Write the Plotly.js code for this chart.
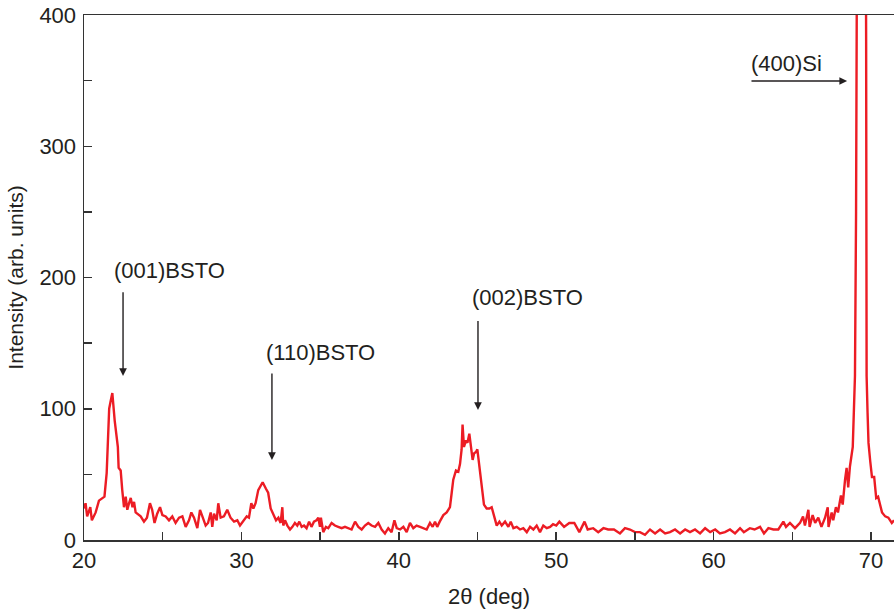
<!DOCTYPE html>
<html>
<head>
<meta charset="utf-8">
<script src="https://cdn.plot.ly/plotly-3.0.1.min.js"></script>
<style>html,body{margin:0;padding:0;background:#fff;}#chart{width:894px;height:610px;}</style>
</head>
<body>
<div id="chart"></div>
<script>
// 2-theta positions (deg)
const twoTheta = [
20.0,20.1,20.2,20.4,20.5,20.74,20.95,21.15,21.3,21.44,21.52,21.6,21.68,21.8,21.95,22.05,22.15,22.2,22.33,22.43,
22.54,22.65,22.75,22.86,22.97,23.08,23.18,23.28,23.39,23.6,23.81,24.0,24.19,24.33,24.48,24.65,24.83,24.98,25.19,25.4,
25.61,25.82,26.04,26.25,26.46,26.67,26.82,26.99,27.2,27.37,27.52,27.73,27.88,28.05,28.15,28.26,28.43,28.53,28.68,28.89,
29.1,29.31,29.53,29.74,29.91,30.12,30.34,30.48,30.63,30.76,30.9,31.07,31.35,31.56,31.7,31.86,32.02,32.2,32.35,32.49,
32.6,32.66,32.77,32.92,33.09,33.24,33.4,33.55,33.68,33.83,33.98,34.14,34.3,34.45,34.61,34.77,34.89,34.99,35.05,35.2,
35.37,35.52,35.73,35.94,36.15,36.37,36.58,36.79,37.0,37.22,37.43,37.64,37.85,38.06,38.27,38.49,38.7,38.91,39.12,39.33,
39.54,39.72,39.87,40.08,40.29,40.5,40.71,40.92,41.13,41.35,41.56,41.77,41.98,42.15,42.3,42.44,42.6,42.83,43.04,43.25,
43.36,43.46,43.63,43.78,43.89,43.99,44.05,44.14,44.27,44.36,44.48,44.57,44.69,44.78,44.9,44.99,45.11,45.26,45.41,45.58,
45.75,45.9,46.05,46.22,46.39,46.54,46.75,46.96,47.11,47.28,47.49,47.7,47.91,48.13,48.34,48.55,48.76,48.97,49.18,49.4,
49.61,49.8,50.0,50.2,50.5,50.83,51.15,51.47,51.8,52.0,52.35,52.67,53.0,53.3,53.67,54.05,54.37,54.69,55.0,55.32,
55.64,55.96,56.28,56.6,56.92,57.23,57.55,57.87,58.19,58.5,58.82,59.14,59.46,59.78,60.1,60.4,60.72,61.04,61.36,61.68,
61.92,62.3,62.6,62.95,63.2,63.48,63.8,64.11,64.43,64.6,64.85,65.17,65.49,65.68,65.8,66.02,66.1,66.29,66.45,66.65,
66.85,67.08,67.25,67.3,67.5,67.6,67.77,67.9,68.09,68.2,68.35,68.45,68.55,68.66,68.84,68.92,68.98,69.05,69.12,69.4,
69.69,69.72,69.78,69.84,69.95,70.06,70.2,70.33,70.45,70.7,70.9,71.1,71.32,71.46
];
// Intensity (arb. units)
const intensity = [
24,28,18,25,15,21,30,32,33,51,80,100,105,112,91,78,71,55,53,38,
25,33,23,28,32,25,29,21,20,18,14,17,28,23,13,20,25,19,18,15,
18,13,17,18,10,15,21,17,9,23,18,11,13,21,10,20,15,28,17,18,
23,17,14,15,11,14,18,17,28,24,28,38,44,39,36,24,20,15,17,13,
25,11,15,11,8,10,13,11,14,10,11,9,14,10,14,15,17,10,17,6,
10,9,13,11,10,9,10,9,8,14,10,8,11,13,11,10,13,8,5,9,
6,15,9,8,10,6,13,9,11,10,9,8,13,10,14,10,14,19,21,25,
36,46,53,52,58,69,88,71,76,74,81,71,61,66,67,69,56,41,27,24,
24,25,18,11,14,11,14,10,14,9,10,8,9,6,10,8,11,6,11,9,
10,12,11,14,10,13,13,6,14,8,9,6,9,8,8,5,9,8,6,6,
4,8,5,8,5,6,8,5,8,6,8,5,9,6,8,5,6,8,5,9,
6,9,8,10,5,9,8,8,14,10,13,9,13,18,11,23,10,19,13,17,
10,17,25,10,21,15,25,21,34,27,46,55,40,56,71,97,125,250,380,1500,
380,125,97,74,60,48,48,32,33,21,18,17,13,15
];
// axis ticks
const xTickVals = [20,25,30,35,40,45,50,55,60,65,70];
const xTickText = ['20','','30','','40','','50','','60','','70'];
const yTickVals = [0,50,100,150,200,250,300,350,400];
const yTickText = ['0','','100','','200','','300','','400'];
// peak labels
const peakLabels = ['(001)BSTO','(110)BSTO','(002)BSTO','(400)Si'];

const FONT = '"Liberation Sans", Arial, Helvetica, sans-serif';
const INK = '#231f20';

const trace = {
  x: twoTheta, y: intensity, type: 'scatter', mode: 'lines',
  line: {color: '#ec1c24', width: 2.4},
  hoverinfo: 'skip'
};

function arrow(x, y, ax, ay) {
  return {x: x, y: y, ax: ax, ay: ay, xref: 'x', yref: 'y', axref: 'x', ayref: 'y',
    text: '', showarrow: true, arrowhead: 2, arrowsize: 1.1, arrowwidth: 1.4, arrowcolor: INK, standoff: 0};
}
function label(x, y, t) {
  return {x: x, y: y, xref: 'x', yref: 'y', text: t, showarrow: false,
    font: {family: FONT, size: 22, color: INK}, xanchor: 'center', yanchor: 'middle'};
}

const layout = {
  width: 894, height: 610,
  margin: {l: 84, r: 0, t: 15, b: 70},
  paper_bgcolor: '#fff', plot_bgcolor: '#fff',
  showlegend: false,
  font: {family: FONT, size: 22, color: INK},
  xaxis: {
    range: [20, 71.46], tickvals: xTickVals, ticktext: xTickText,
    ticks: 'inside', ticklen: 8, tickwidth: 1.5, tickcolor: '#333',
    showline: true, linecolor: '#333', linewidth: 1.5, mirror: true,
    showgrid: false, zeroline: false,
    tickfont: {family: FONT, size: 22, color: INK},
    title: {text: '2θ (deg)', font: {family: FONT, size: 22, color: INK}, standoff: 16}
  },
  yaxis: {
    range: [0, 400], tickvals: yTickVals, ticktext: yTickText,
    ticks: 'inside', ticklen: 8, tickwidth: 1.5, tickcolor: '#333',
    showline: true, linecolor: '#333', linewidth: 1.5,
    showgrid: false, zeroline: false,
    tickfont: {family: FONT, size: 22, color: INK},
    ticklabelstandoff: 2,
    title: {text: 'Intensity (arb. units)', font: {family: FONT, size: 21, color: INK}, standoff: 10}
  },
  annotations: [
    arrow(22.48, 125, 22.48, 190),
    label(25.46, 205, peakLabels[0]),
    arrow(31.94, 61, 31.94, 128),
    label(35.0, 142.5, peakLabels[1]),
    arrow(45.03, 99, 45.03, 168),
    label(48.15, 185, peakLabels[2]),
    arrow(68.48, 349.7, 62.31, 349.7),
    label(64.6, 363.4, peakLabels[3])
  ]
};

Plotly.newPlot('chart', [trace], layout, {displayModeBar: false, staticPlot: true});
</script>
</body>
</html>
